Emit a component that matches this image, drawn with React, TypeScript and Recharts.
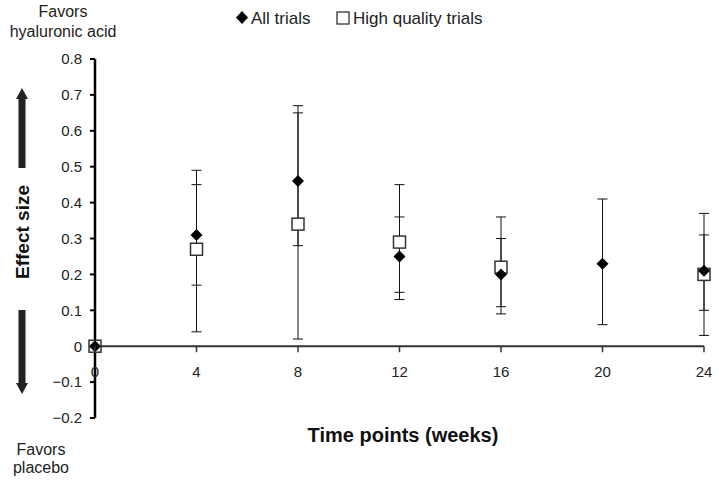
import { ScatterChart, Scatter, XAxis, YAxis, ErrorBar, ReferenceLine } from "recharts";

const weeks = [0, 4, 8, 12, 16, 20, 24];
const allEffect = [0, 0.31, 0.46, 0.25, 0.2, 0.23, 0.21];
const allLow = [0, 0.17, 0.28, 0.15, 0.11, 0.06, 0.1];
const allHigh = [0, 0.45, 0.65, 0.36, 0.3, 0.41, 0.31];

const hqWeeks = [0, 4, 8, 12, 16, 24];
const hqEffect = [0, 0.27, 0.34, 0.29, 0.22, 0.2];
const hqLow = [0, 0.04, 0.02, 0.13, 0.09, 0.03];
const hqHigh = [0, 0.49, 0.67, 0.45, 0.36, 0.37];

const xTicks = [0, 4, 8, 12, 16, 20, 24];
const yTicks = [-0.2, -0.1, 0, 0.1, 0.2, 0.3, 0.4, 0.5, 0.6, 0.7, 0.8];

const W = 719;
const H = 481;
const M = { top: 59, right: 15, bottom: 33, left: 35 };
const Y_AXIS_W = 60;
const X_AXIS_H = 30;
const Y_MIN = -0.2;
const Y_MAX = 0.8;
const PLOT_H = H - M.top - M.bottom - X_AXIS_H;
// pixel row of effect size 0, where the time axis is drawn
const ZERO_Y = M.top + (PLOT_H * (Y_MAX - 0)) / (Y_MAX - Y_MIN);

const FONT = "'Liberation Sans', Arial, Helvetica, sans-serif";
const INK = "#222";

const toRows = (xs: number[], ys: number[], lo: number[], hi: number[]) =>
  xs.map((w, i) => ({ week: w, effect: ys[i], err: [+(ys[i] - lo[i]).toFixed(3), +(hi[i] - ys[i]).toFixed(3)] }));

const allRows = toRows(weeks, allEffect, allLow, allHigh);
const hqRows = toRows(hqWeeks, hqEffect, hqLow, hqHigh);

const Diamond = ({ cx, cy }: any) => (
  <polygon points={`${cx},${cy - 6} ${cx + 6},${cy} ${cx},${cy + 6} ${cx - 6},${cy}`} fill="#000" />
);
const Square = ({ cx, cy }: any) => (
  <rect x={cx - 6} y={cy - 6} width={12} height={12} fill="#fff" stroke="#333" strokeWidth={1.5} />
);
const Nothing = () => <g />;

const XTick = ({ x, payload }: any) => (
  <g>
    <line x1={x} x2={x} y1={ZERO_Y} y2={ZERO_Y + 6} stroke="#333" strokeWidth={1.5} />
    <text x={x} y={ZERO_Y + 31} textAnchor="middle" fontSize={15} fontFamily={FONT} fill={INK}>
      {payload.value}
    </text>
  </g>
);

const fmtY = (v: number) => {
  const r = Number(v.toFixed(1));
  return r < 0 ? `\u2212${Math.abs(r)}` : String(r);
};

function Arrow({ x, tip, tail }: { x: number; tip: number; tail: number }) {
  const dir = tip < tail ? 1 : -1;
  const head = tip + dir * 11;
  return (
    <g fill="#222">
      <rect x={x - 3.5} y={Math.min(head, tail)} width={7} height={Math.abs(tail - head)} />
      <polygon points={`${x},${tip} ${x + 6},${head} ${x - 6},${head}`} />
    </g>
  );
}

export default function App() {
  return (
    <div style={{ position: "absolute", left: 0, top: 0, width: W, height: H, background: "#fff", fontFamily: FONT, color: INK }}>
      <ScatterChart width={W} height={H} margin={M}>
        <XAxis
          type="number"
          dataKey="week"
          domain={[0, 24]}
          ticks={xTicks}
          height={X_AXIS_H}
          axisLine={false}
          tickLine={false}
          tick={<XTick />}
        />
        <YAxis
          type="number"
          dataKey="effect"
          domain={[Y_MIN, Y_MAX]}
          ticks={yTicks}
          width={Y_AXIS_W}
          interval={0}
          tickFormatter={fmtY}
          axisLine={{ stroke: "#000", strokeWidth: 2.5 }}
          tickLine={{ stroke: "#000", strokeWidth: 2 }}
          tickSize={5}
          tickMargin={8}
          tick={{ fontSize: 15, fontFamily: FONT, fill: INK }}
        />
        <ReferenceLine y={0} stroke="#333" strokeWidth={2} />
        <Scatter data={allRows} shape={<Nothing />} isAnimationActive={false}>
          <ErrorBar dataKey="err" direction="y" width={5} stroke="#111" strokeWidth={1} isAnimationActive={false} />
        </Scatter>
        <Scatter data={hqRows} shape={<Square />} isAnimationActive={false}>
          <ErrorBar dataKey="err" direction="y" width={5} stroke="#111" strokeWidth={1} isAnimationActive={false} />
        </Scatter>
        <Scatter data={allRows} shape={<Diamond />} isAnimationActive={false} />
      </ScatterChart>

      <svg width={W} height={H} style={{ position: "absolute", left: 0, top: 0, pointerEvents: "none" }}>
        <Arrow x={22} tip={88} tail={168} />
        <Arrow x={22} tip={394} tail={310} />
        <text
          x={22}
          y={232}
          transform="rotate(-90 22 232)"
          textAnchor="middle"
          dominantBaseline="central"
          fontSize={19}
          fontWeight="bold"
          fontFamily={FONT}
          fill="#111"
        >
          Effect size
        </text>
        <text x={403} y={442} textAnchor="middle" fontSize={20} fontWeight="bold" fontFamily={FONT} fill="#111">
          Time points (weeks)
        </text>
        <g fontSize={16} fontFamily={FONT} fill={INK} textAnchor="middle">
          <text x={63} y={17}>Favors</text>
          <text x={63} y={37}>hyaluronic acid</text>
          <text x={41} y={455}>Favors</text>
          <text x={41} y={473}>placebo</text>
        </g>
        <g fontSize={17} fontFamily={FONT} fill={INK}>
          <polygon points="242,11 248,17.5 242,24 236,17.5" fill="#000" />
          <text x={251} y={23.5}>All trials</text>
          <rect x={337} y={12} width={12} height={12} fill="#fff" stroke="#333" strokeWidth={1.3} />
          <text x={353} y={23.5}>High quality trials</text>
        </g>
      </svg>
    </div>
  );
}
